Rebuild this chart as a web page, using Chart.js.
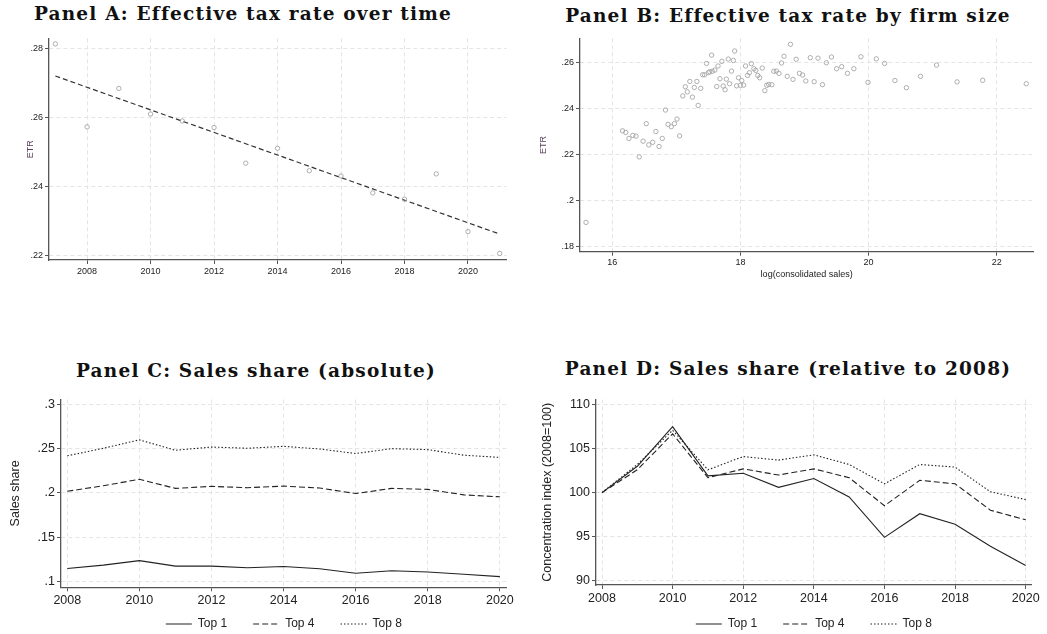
<!DOCTYPE html>
<html>
<head>
<meta charset="utf-8">
<script src="https://cdn.jsdelivr.net/npm/chart.js@4.4.1/dist/chart.umd.min.js"></script>
<style>
  body { margin: 0; width: 1047px; height: 634px; overflow: hidden; background: #fff; position: relative; }
  .titre { position: absolute; width: 520px; text-align: center; font-family: "DejaVu Serif", serif; font-weight: bold;
           font-size: 18.5px; letter-spacing: 1.2px; line-height: 22px; color: #111; white-space: nowrap; }
  canvas { position: absolute; }
</style>
</head>
<body>
<div class="titre" style="left:-17px; top:3px">Panel A: Effective tax rate over time</div>
<div class="titre" style="left:528px; top:5px">Panel B: Effective tax rate by firm size</div>
<div class="titre" style="left:-4px; top:360px">Panel C: Sales share (absolute)</div>
<div class="titre" style="left:528px; top:358px">Panel D: Sales share (relative to 2008)</div>

<canvas id="graphique-a" width="520" height="262" style="left:0; top:30px; width:520px; height:262px"></canvas>
<canvas id="graphique-b" width="527" height="262" style="left:520px; top:30px; width:527px; height:262px"></canvas>
<canvas id="graphique-c" width="520" height="250" style="left:0; top:390px; width:520px; height:250px"></canvas>
<canvas id="graphique-d" width="527" height="250" style="left:520px; top:390px; width:527px; height:250px"></canvas>

<script>
// *** donnees ***

// Panel A : ETR par annee + droite de tendance
const anneesA = [2007, 2008, 2009, 2010, 2011, 2012, 2013, 2014, 2015, 2016, 2017, 2018, 2019, 2020, 2021];
const etrA = [.2813, .2573, .2684, .2610, .2590, .2571, .2468, .2511, .2446, .2431, .2382, .2364, .2437, .2270, .2207];
const tendanceX = [2007, 2021];
const tendanceY = [.2720, .2263];

// Panel B : ETR par taille (100 bins)
const tailleB = [15.59, 16.16, 16.21, 16.26, 16.32, 16.37, 16.42, 16.48, 16.53, 16.57,
    16.63, 16.68, 16.73, 16.78, 16.83, 16.87, 16.92, 16.97, 17.01, 17.05,
    17.10, 17.14, 17.17, 17.21, 17.25, 17.28, 17.32, 17.34, 17.38, 17.41,
    17.44, 17.47, 17.50, 17.52, 17.55, 17.56, 17.60, 17.63, 17.65, 17.68,
    17.71, 17.73, 17.76, 17.78, 17.81, 17.83, 17.86, 17.89, 17.91, 17.94,
    17.97, 18.00, 18.02, 18.05, 18.08, 18.11, 18.14, 18.17, 18.21, 18.24,
    18.27, 18.30, 18.34, 18.38, 18.41, 18.44, 18.49, 18.52, 18.56, 18.60,
    18.64, 18.68, 18.73, 18.78, 18.82, 18.87, 18.92, 18.97, 19.02, 19.09,
    19.15, 19.21, 19.28, 19.34, 19.42, 19.50, 19.58, 19.67, 19.77, 19.88,
    19.99, 20.12, 20.25, 20.41, 20.59, 20.81, 21.06, 21.38, 21.78, 22.46];
const etrB = [.1905, .2302, .2295, .2269, .2282, .2279, .2189, .2257, .2333, .2241,
    .2252, .2299, .2234, .2269, .2392, .2330, .2320, .2333, .2353, .2280,
    .2453, .2493, .2471, .2516, .2448, .2490, .2516, .2412, .2486, .2545,
    .2545, .2594, .2554, .2558, .2630, .2560, .2565, .2494, .2583, .2528,
    .2603, .2496, .2480, .2526, .2613, .2506, .2561, .2607, .2648, .2497,
    .2532, .2499, .2520, .2500, .2583, .2542, .2554, .2593, .2571, .2564,
    .2542, .2532, .2574, .2476, .2499, .2503, .2502, .2560, .2561, .2551,
    .2596, .2625, .2538, .2677, .2525, .2612, .2551, .2544, .2518, .2619,
    .2515, .2617, .2502, .2597, .2622, .2571, .2580, .2551, .2571, .2623,
    .2512, .2614, .2594, .2520, .2489, .2538, .2587, .2514, .2521, .2506];

// Panels C et D : parts de ventes
const annees = [2008, 2009, 2010, 2011, 2012, 2013, 2014, 2015, 2016, 2017, 2018, 2019, 2020];
const partTop1 = [.1147, .1184, .1235, .1173, .1173, .1154, .1169, .1143, .1092, .1121, .1107, .1081, .1055];
const partTop4 = [.2018, .2081, .2154, .2051, .2074, .2059, .2077, .2055, .1993, .2051, .2040, .1978, .1956];
const partTop8 = [.2419, .2504, .2599, .2482, .2518, .2504, .2526, .2496, .2445, .2500, .2489, .2426, .2401];
const indiceTop1 = [100, 103.0, 107.5, 101.9, 102.2, 100.6, 101.6, 99.5, 94.9, 97.6, 96.4, 93.9, 91.7];
const indiceTop4 = [100, 102.6, 106.7, 101.7, 102.7, 102.0, 102.7, 101.7, 98.5, 101.4, 101.0, 98.0, 96.9];
const indiceTop8 = [100, 103.2, 107.1, 102.6, 104.1, 103.7, 104.3, 103.2, 101.0, 103.2, 102.9, 100.1, 99.2];
const seriesLabels = ["Top 1", "Top 4", "Top 8"];

// graduations
const ticksAnnees = [2008, 2010, 2012, 2014, 2016, 2018, 2020];
const ticksEtrA = [.22, .24, .26, .28];
const ticksTailleB = [16, 18, 20, 22];
const ticksEtrB = [.18, .2, .22, .24, .26];
const ticksPart = [.1, .15, .2, .25, .3];
const ticksIndice = [90, 95, 100, 105, 110];

// *** fonctions utilitaires ***

Chart.defaults.font.family = "'Liberation Sans', Arial, sans-serif";
Chart.defaults.animation = false;

const police = "'Liberation Sans', Arial, sans-serif";

function formatStata(v) {
    // Stata affiche .25 au lieu de 0.25
    return String(Math.round(v * 1000) / 1000).replace(/^0\./, ".");
}

function points(xs, ys) {
    return xs.map((x, i) => ({ x: x, y: ys[i] }));
}

function axe(min, max, ticks, taille, fit, tickPad, titre) {
    const a = {
        type: "linear",
        min: min,
        max: max,
        afterBuildTicks: axis => { axis.ticks = ticks.map(v => ({ value: v })); },
        afterFit: axis => {
            if (axis.isHorizontal()) axis.height = fit; else axis.width = fit;
        },
        ticks: { callback: v => formatStata(v), color: "#222", padding: tickPad, font: { family: police, size: taille } },
        grid: { color: "#e4e4e4", lineWidth: 1, tickColor: "#555", tickLength: 4, tickWidth: 1 },
        border: { color: "#555", width: 1.3, dash: [4, 3] },
        title: { display: false }
    };
    if (titre) a.title = titre;
    return a;
}

function ligne(label, data, dash) {
    return {
        label: label,
        data: data,
        showLine: true,
        borderColor: "#222",
        backgroundColor: "#222",
        borderWidth: 1.1,
        borderDash: dash,
        pointRadius: 0,
        tension: 0,
        fill: false
    };
}

// legende : trait de la serie (plein, tirets, pointilles) + texte
function legendeBas(decalage) {
    return {
        position: "bottom",
        fullSize: false,
        // titre vide avec marge negative pour remonter la legende sous l'axe
        title: { display: true, text: "", font: { size: 1, lineHeight: 0 }, padding: { top: 0, bottom: decalage } },
        labels: {
            usePointStyle: true, pointStyle: "line", pointStyleWidth: 26, boxWidth: 26,
            padding: 26, color: "#222", font: { family: police, size: 12 },
            generateLabels: chart => chart.data.datasets.map((ds, i) => ({
                text: ds.label,
                datasetIndex: i,
                strokeStyle: ds.borderColor,
                fillStyle: ds.borderColor,
                lineWidth: ds.borderWidth,
                lineDash: ds.borderDash,
                pointStyle: "line",
                fontColor: "#222",
                hidden: false
            }))
        }
    };
}

// *** graphique A ***

new Chart(document.querySelector("#graphique-a"), {
    type: "scatter",
    data: {
        datasets: [{
            label: "ETR",
            data: points(anneesA, etrA),
            pointRadius: 2.2,
            pointBorderWidth: 0.9,
            borderColor: "#a6a6a6",
            backgroundColor: "rgba(0,0,0,0)"
        }, {
            label: "Fit",
            data: points(tendanceX, tendanceY),
            showLine: true,
            pointRadius: 0,
            borderColor: "#333",
            borderWidth: 1.2,
            borderDash: [5, 3]
        }]
    },
    options: {
        responsive: false,
        events: [],
        layout: { padding: { top: 8.3, right: 13.3, left: 0, bottom: 0 } },
        plugins: { legend: { display: false }, tooltip: { enabled: false } },
        scales: {
            x: axe(2006.8, 2021.22, ticksAnnees, 9, 32, 2.6),
            y: axe(0.2188, 0.2829, ticksEtrA, 9, 49, 2,
                { display: true, text: "ETR", color: "#5b3d5b", font: { family: police, size: 9 }, padding: { top: 25.6, bottom: 0 } })
        }
    }
});

// *** graphique B ***

new Chart(document.querySelector("#graphique-b"), {
    type: "scatter",
    data: {
        datasets: [{
            label: "ETR",
            data: points(tailleB, etrB),
            pointRadius: 2.2,
            pointBorderWidth: 0.9,
            borderColor: "#a6a6a6",
            backgroundColor: "rgba(0,0,0,0)"
        }]
    },
    options: {
        responsive: false,
        events: [],
        layout: { padding: { top: 8.3, right: 13.7, left: 0, bottom: 0 } },
        plugins: { legend: { display: false }, tooltip: { enabled: false } },
        scales: {
            x: axe(15.496, 22.57, ticksTailleB, 9, 40.3, 1.9,
                { display: true, text: "log(consolidated sales)", color: "#222", font: { family: police, size: 9 }, padding: { top: 0, bottom: 11.6 } }),
            y: axe(0.1778, 0.2703, ticksEtrB, 9, 60, 2,
                { display: true, text: "ETR", color: "#5b3d5b", font: { family: police, size: 9 }, padding: { top: 18.6, bottom: 0 } })
        }
    }
});

// *** graphique C ***

new Chart(document.querySelector("#graphique-c"), {
    type: "scatter",
    data: {
        datasets: [
            ligne(seriesLabels[0], points(annees, partTop1), []),
            ligne(seriesLabels[1], points(annees, partTop4), [6, 3]),
            ligne(seriesLabels[2], points(annees, partTop8), [1.5, 2])
        ]
    },
    options: {
        responsive: false,
        events: [],
        layout: { padding: { top: 5, right: 13.3, left: 0, bottom: 0 } },
        plugins: { legend: legendeBas(-17.3), tooltip: { enabled: false } },
        scales: {
            x: axe(2007.825, 2020.19, ticksAnnees, 12.5, 22, 2),
            y: axe(0.0934, 0.3055, ticksPart, 12.5, 61, 2,
                { display: true, text: "Sales share", color: "#222", font: { family: police, size: 12.5 }, padding: { top: 8.2, bottom: 0 } })
        }
    }
});

// *** graphique D ***

new Chart(document.querySelector("#graphique-d"), {
    type: "scatter",
    data: {
        datasets: [
            ligne(seriesLabels[0], points(annees, indiceTop1), []),
            ligne(seriesLabels[1], points(annees, indiceTop4), [6, 3]),
            ligne(seriesLabels[2], points(annees, indiceTop8), [1.5, 2])
        ]
    },
    options: {
        responsive: false,
        events: [],
        layout: { padding: { top: 4, right: 15.3, left: 0, bottom: 0 } },
        plugins: { legend: legendeBas(-15), tooltip: { enabled: false } },
        scales: {
            x: axe(2007.83, 2020.17, ticksAnnees, 12.5, 22, 2.5),
            y: axe(89.48, 110.6, ticksIndice, 12.5, 76, 2,
                { display: true, text: "Concentration index (2008=100)", color: "#222", font: { family: police, size: 12.5 }, padding: { top: 20.2, bottom: 0 } })
        }
    }
});
</script>
</body>
</html>
